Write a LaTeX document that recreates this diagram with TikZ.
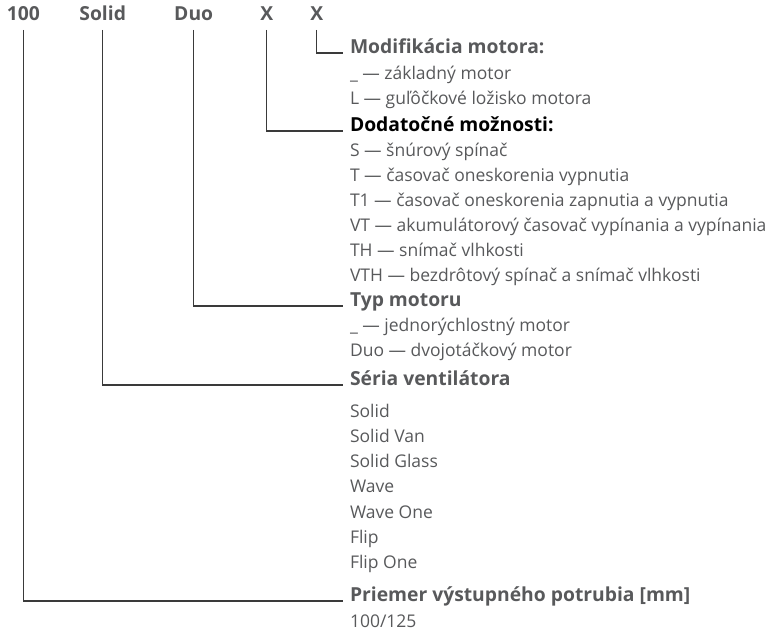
\documentclass[tikz,border=0pt]{standalone}
\usepackage{fontspec}
\setmainfont{Open Sans}
\definecolor{txtgray}{HTML}{58595B}
\definecolor{linegray}{HTML}{3A3A3A}
\newcommand{\txtsize}{\fontsize{17.5}{20}\selectfont}
\newcommand{\hdsize}{\fontsize{19.3}{22}\selectfont\bfseries}
\begin{document}
\begin{tikzpicture}[x=1pt,y=-1pt,
  every node/.style={inner sep=0pt,outer sep=0pt,anchor=base west,font=\txtsize,text=txtgray},
  toplabel/.style={anchor=base,font=\hdsize},
  heading/.style={font=\hdsize},
  headingblack/.style={font=\hdsize,text=black},
  item/.style={},
  conn/.style={draw=linegray,line width=1.2pt}]
\useasboundingbox (0,0) rectangle (783,634);
% top row
\node[toplabel] (h100) at (23.3,21) {100};
\node[toplabel] (hsolid) at (102.7,21) {Solid};
\node[toplabel] (hduo) at (193.7,21) {Duo};
\node[toplabel] (hx1) at (266.7,21) {X};
\node[toplabel] (hx2) at (316.7,21) {X};
\coordinate (top) at (0,30);
% group: Modifikacia
\node[heading] (g1) at (350,53) {Modifikácia motora:};
\node[item] (g1a) at (350,79) {\_ — základný motor};
\node[item] (g1b) at (350,104) {L — guľôčkové ložisko motora};
% group: Dodatocne
\node[headingblack] (g2) at (350,131) {Dodatočné možnosti:};
\node[item] (g2a) at (350,156) {S — šnúrový spínač};
\node[item] (g2b) at (350,181) {T — časovač oneskorenia vypnutia};
\node[item] (g2c) at (350,206) {T1 — časovač oneskorenia zapnutia a vypnutia};
\node[item] (g2d) at (350,231) {VT — akumulátorový časovač vypínania a vypínania};
\node[item] (g2e) at (350,256) {TH — snímač vlhkosti};
\node[item] (g2f) at (350,281) {VTH — bezdrôtový spínač a snímač vlhkosti};
% group: Typ motoru
\node[heading] (g3) at (350,306) {Typ motoru};
\node[item] (g3a) at (350,331) {\_ — jednorýchlostný motor};
\node[item] (g3b) at (350,356) {Duo — dvojotáčkový motor};
% group: Seria
\node[heading] (g4) at (350,385) {Séria ventilátora};
\node[item] (g4a) at (350,417) {Solid};
\node[item] (g4b) at (350,442.3) {Solid Van};
\node[item] (g4c) at (350,467.6) {Solid Glass};
\node[item] (g4d) at (350,492.9) {Wave};
\node[item] (g4e) at (350,518.2) {Wave One};
\node[item] (g4f) at (350,543.5) {Flip};
\node[item] (g4g) at (350,568.8) {Flip One};
% group: Priemer
\node[heading] (g5) at (350,601) {Priemer výstupného potrubia [mm]};
\node[item] (g5a) at (350,627) {100/125};
% connector ends
\coordinate (e1) at (342.5,53);
\coordinate (e2) at (342.5,131);
\coordinate (e3) at (342.5,306);
\coordinate (e4) at (342.5,385);
\coordinate (e5) at (342.5,601);
\draw[conn] (hx2 |- top) |- (e1);
\draw[conn] (hx1 |- top) |- (e2);
\draw[conn] (hduo |- top) |- (e3);
\draw[conn] (hsolid |- top) |- (e4);
\draw[conn] (h100 |- top) |- (e5);
\end{tikzpicture}
\end{document}
